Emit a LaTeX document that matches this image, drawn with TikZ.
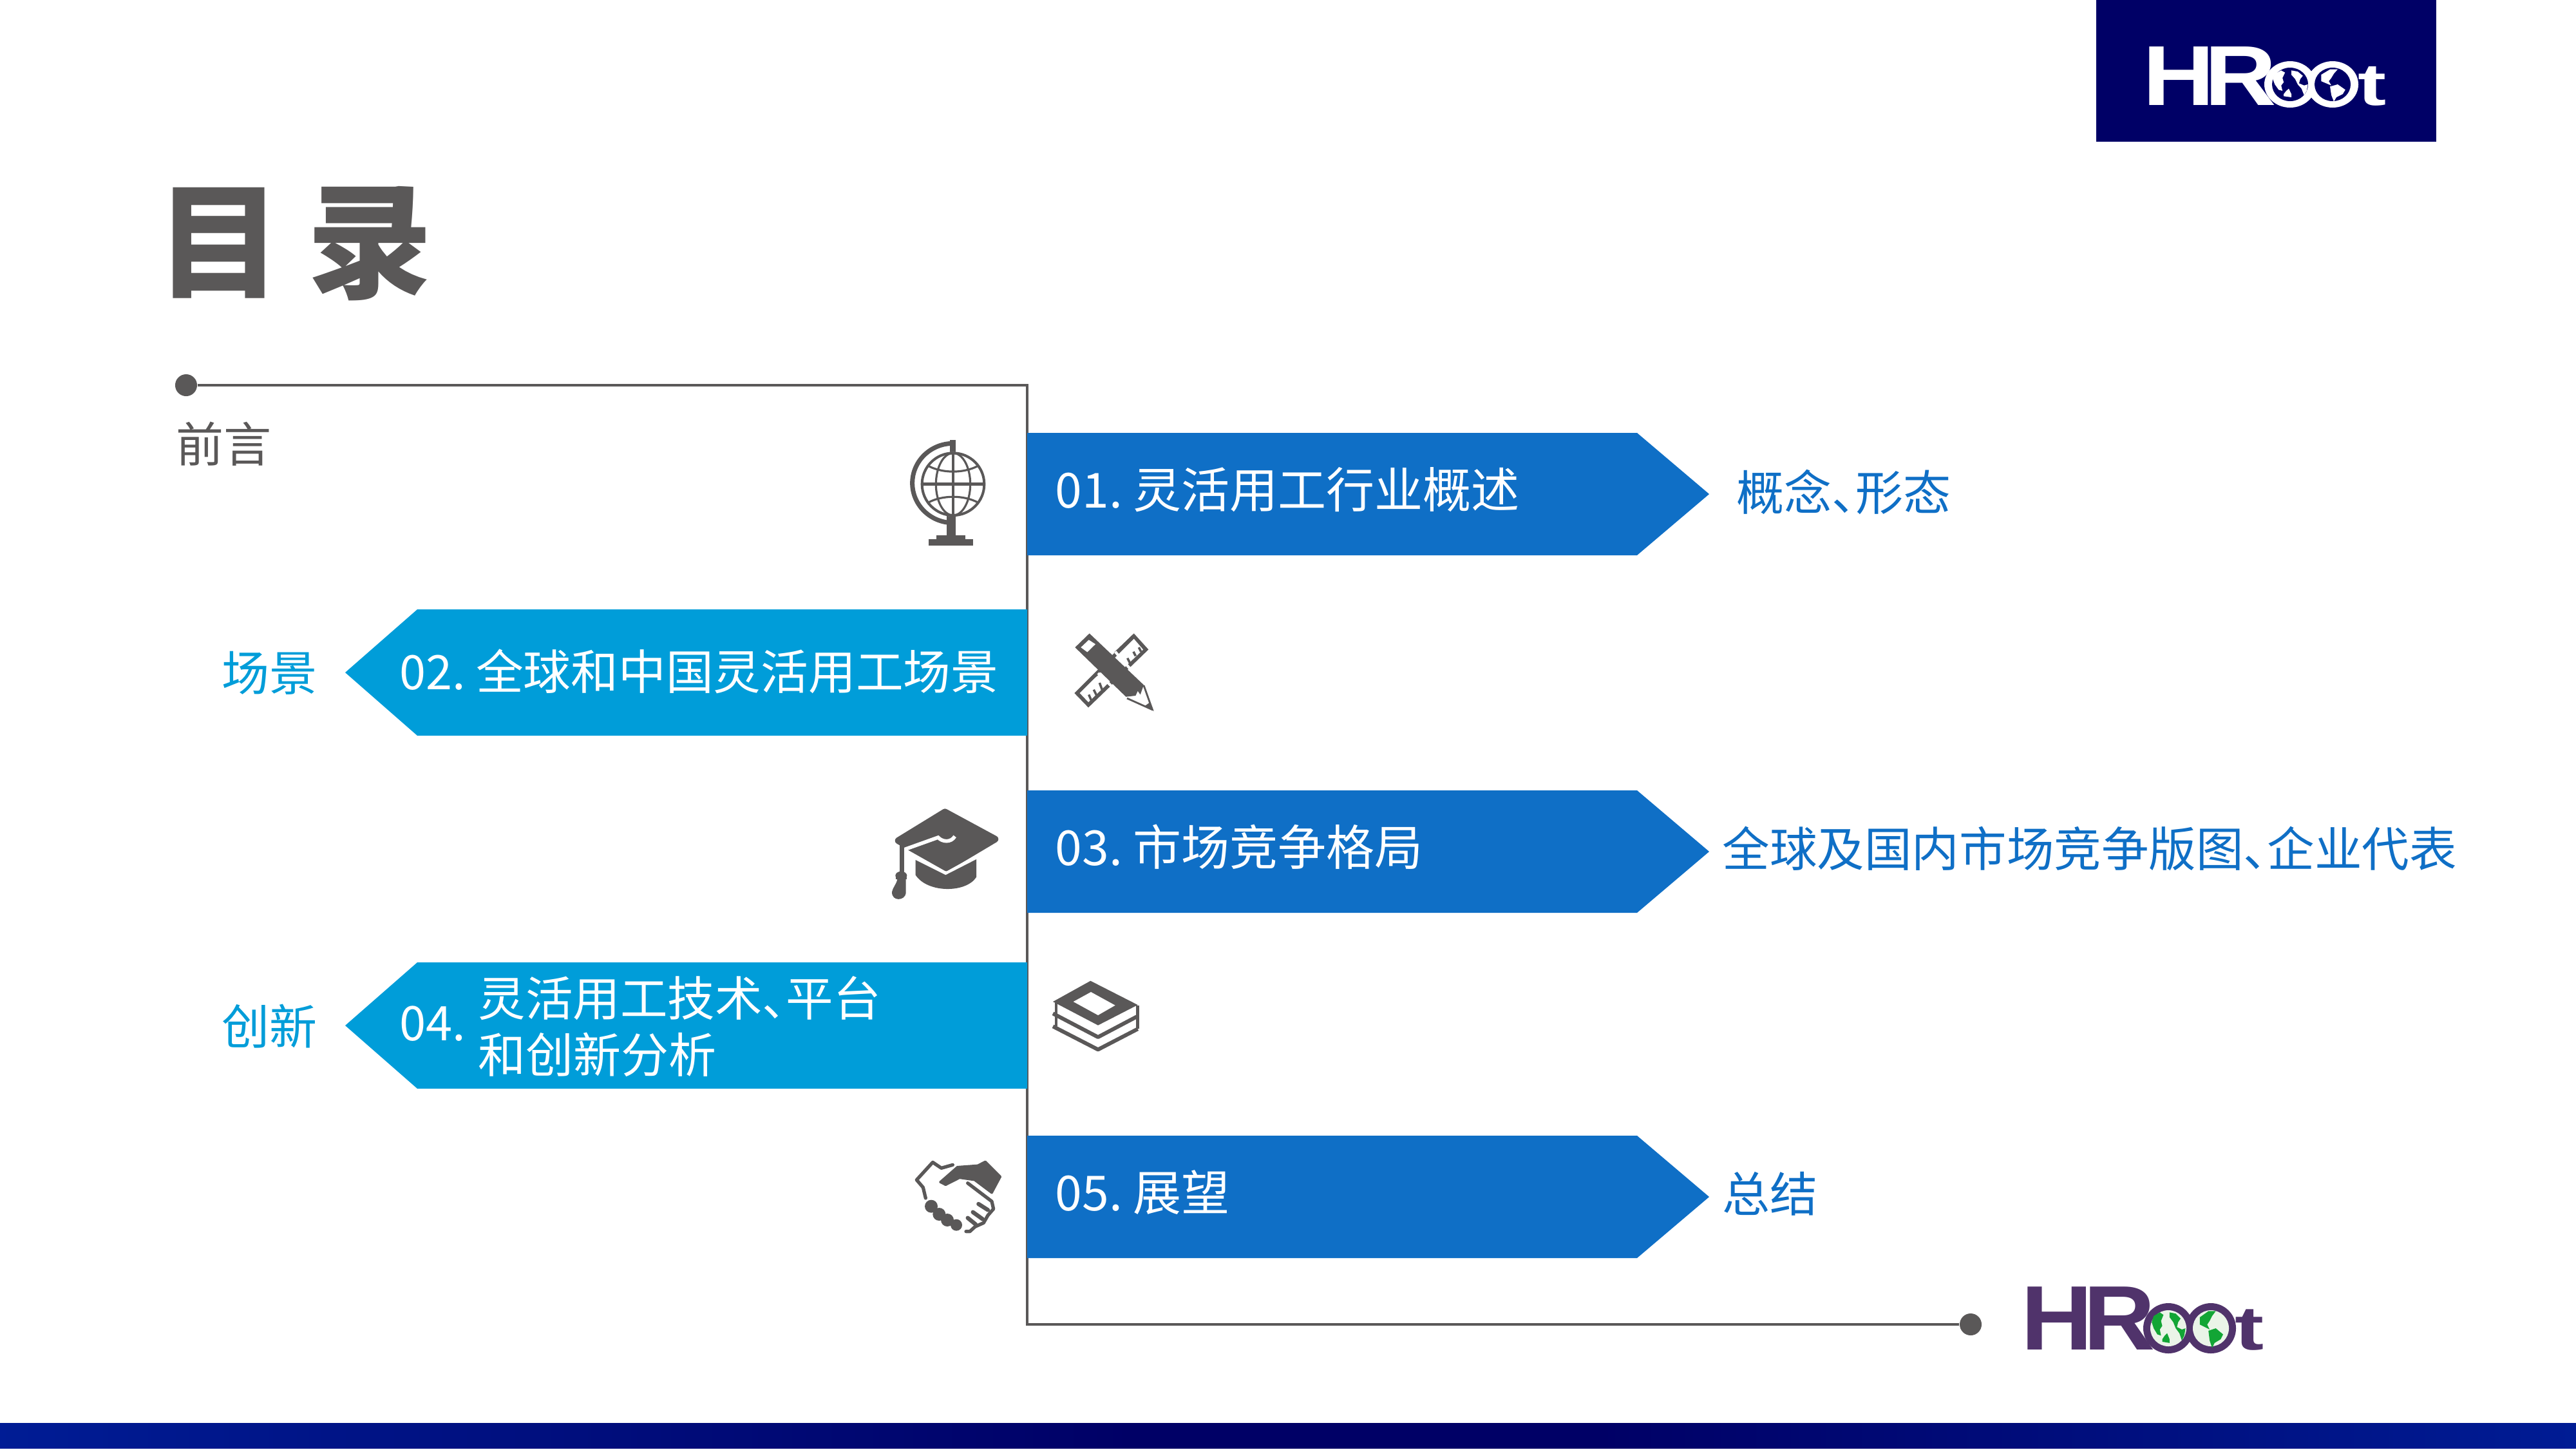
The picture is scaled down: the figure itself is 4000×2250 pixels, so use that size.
\documentclass[tikz,border=0pt]{standalone}
\usepackage{fontspec}
\usepackage{graphicx}
\setmainfont{Noto Sans CJK SC}[RawFeature={+palt}]
\newfontfamily\logofont{Liberation Sans}[BoldFont={Liberation Sans Bold}]
\definecolor{ink}{HTML}{5A5858}
\definecolor{flowA}{HTML}{0F6FC6}
\definecolor{flowB}{HTML}{009DD9}
\definecolor{navy}{HTML}{000066}
\definecolor{plum}{HTML}{50336B}
\definecolor{leaf}{HTML}{12A535}
\definecolor{pale}{HTML}{EAF4E8}
\definecolor{bandEdge}{HTML}{0026A4}
\definecolor{bandPeak}{HTML}{0029AA}
\pgfdeclarehorizontalshading{bandshade}{100bp}{color(0bp)=(bandEdge); color(15bp)=(bandPeak); color(47bp)=(navy); color(56bp)=(navy); color(84bp)=(bandPeak); color(100bp)=(bandEdge)}
\newcommand{\pxfont}[1]{\fontsize{\the\dimexpr 0.28453\dimexpr #1pt\relax\relax}{\the\dimexpr 0.34\dimexpr #1pt\relax\relax}\selectfont}
\newcommand{\gap}{\kern-0.06cm }
\newcommand{\landA}{(-60,-50) -- (-35,-65) -- (-20,-55) -- (-30,-30) -- (-25,-10) -- (-35,5) -- (-30,30) -- (-45,25) -- (-60,0) -- (-68,-25) -- cycle
 (5,-65) -- (30,-60) -- (50,-40) -- (40,-25) -- (35,-5) -- (55,5) -- (70,0) -- (65,30) -- (55,50) -- (45,20) -- (30,0) -- (20,-25) -- (5,-45) -- cycle
 (-25,45) -- (-15,30) -- (-5,20) -- (5,45) -- (5,60) -- (-25,55) -- cycle}
\newcommand{\landB}{(-45,-45) -- (-10,-70) -- (20,-70) -- (5,-50) -- (-5,-30) -- (-15,-15) -- (-5,5) -- (-25,-5) -- (-45,-15) -- cycle
 (-10,10) -- (20,0) -- (50,25) -- (40,45) -- (15,60) -- (5,80) -- (-5,50) -- cycle}
\tikzset{
  x=0.01cm,y=-0.01cm,
  lbl/.style={anchor=base west,inner sep=0pt,font=\pxfont{74}},
  inbar/.style={lbl,text=white},
  sideA/.style={lbl,text=flowA},
  sideB/.style={lbl,text=flowB},
  dot/.style={circle,fill=ink,inner sep=0pt,minimum size=0.34cm},
  conn/.style={draw=ink,line width=1.14pt,line join=miter},
  logotxt/.style={anchor=base west,inner sep=0pt},
}
\begin{document}
\begin{tikzpicture}
\useasboundingbox (0,0) rectangle (4000,2250);
\fill[white] (0,0) rectangle (4000,2250);
% bottom band
\shade[shading=bandshade] (0,2209) rectangle (4000,2248);
% header logo
\fill[navy] (3255,0) rectangle (3783,220);
\node[logotxt,text=white,font=\logofont\bfseries\pxfont{132}] (h1) at (3327,163) {\scalebox{1.17}[1]{H}};
\node[logotxt,text=white,font=\logofont\bfseries\pxfont{132}] (r1) at (3423,163) {\scalebox{1.17}[1]{R}};
\node[logotxt,text=white,font=\logofont\bfseries\pxfont{92}] (t1) at (3661,163) {\scalebox{1.44}[1]{t}};
\fill[white] (3556,131) ellipse (40 and 36) (3622,131) ellipse (40 and 36);
\fill[navy] (3556,131) ellipse (28 and 26) (3622,131) ellipse (28 and 26);
\begin{scope}[shift={(3556,131)},xscale=0.395,yscale=0.333]\fill[white] \landA;\end{scope}
\begin{scope}[shift={(3622,131)},xscale=0.395,yscale=0.333]\fill[white] \landB;\end{scope}
% title
\node[anchor=base west,inner sep=0pt,text=ink,font=\bfseries\pxfont{194}] (title) at (243,447) {目\kern-0.05cm{} 录};
% frame line
\node[dot] (d1) at (289,598) {};
\node[dot] (d2) at (3060,2056) {};
\coordinate (c1) at (1595,598);
\coordinate (c2) at (1595,2056);
\draw[conn] (d1) -- (c1) -- (c2) -- (d2);
% bars
\fill[flowA] (1595,672) -- (2542,672) -- (2654,767) -- (2542,862) -- (1595,862) -- cycle;
\fill[flowB] (1595,946) -- (648,946) -- (536,1044) -- (648,1142) -- (1595,1142) -- cycle;
\fill[flowA] (1595,1227) -- (2542,1227) -- (2654,1322) -- (2542,1417) -- (1595,1417) -- cycle;
\fill[flowB] (1595,1494) -- (648,1494) -- (536,1592) -- (648,1690) -- (1595,1690) -- cycle;
\fill[flowA] (1595,1763) -- (2542,1763) -- (2654,1858) -- (2542,1953) -- (1595,1953) -- cycle;
% texts
\node[lbl,text=ink] (qy) at (273,717) {前言};
\node[inbar,font=\pxfont{75}] (b1) at (1638,788) {01. \gap 灵活用工行业概述};
\node[inbar,font=\pxfont{73.7}] (b2) at (620,1070) {02. \gap 全球和中国灵活用工场景};
\node[inbar,font=\pxfont{75}] (b3) at (1638,1343) {03. \gap 市场竞争格局};
\node[inbar] (b4) at (620,1615) {04.};
\node[inbar,font=\pxfont{73.5}] (b4a) at (742,1577) {灵活用工技术、平台};
\node[inbar] (b4b) at (742,1665) {和创新分析};
\node[inbar,font=\pxfont{75}] (b5) at (1638,1879) {05. \gap 展望};
\node[sideA] (s1) at (2696,792) {概念、形态};
\node[sideB] (s2) at (344,1072) {场景};
\node[sideA,font=\pxfont{73.5}] (s3) at (2674,1345) {全球及国内市场竞争版图、企业代表};
\node[sideB] (s4) at (344,1621) {创新};
\node[sideA] (s5) at (2674,1881) {总结};
% globe icon
\begin{scope}[shift={(1340,660)},scale=1/3]
 \draw[ink,line width=2pt] (420,85) arc[start angle=-90,end angle=-270,x radius=190,y radius=185];
 \fill[ink] (405,70) rectangle (432,130);
 \fill[ink] (390,420) rectangle (432,520);
 \fill[ink] (342,512) rectangle (478,535);
 \fill[ink] (305,532) rectangle (512,560);
 \fill[white] (420,275) circle (150);
 \draw[ink,line width=1.15pt] (420,275) circle (145);
 \draw[ink,line width=0.9pt] (420,275) ellipse (80 and 145);
 \draw[ink,line width=0.9pt] (420,130) -- (420,420);
 \draw[ink,line width=1.4pt] (275,275) -- (565,275);
 \draw[ink,line width=0.9pt] (305,190) .. controls (370,225) and (470,225) .. (535,190);
 \draw[ink,line width=0.9pt] (305,360) .. controls (370,325) and (470,325) .. (535,360);
\end{scope}
% pencil and ruler icon
\begin{scope}[shift={(1620,950)},scale=1/3]
 \fill[ink] (422,100) -- (490,175) -- (210,445) -- (145,378) -- cycle;
 \fill[white] (422,125) -- (465,175) -- (210,420) -- (170,378) -- cycle;
 \draw[ink,line width=1pt] (225,415) -- (212,385) (250,392) -- (235,362) (275,365) -- (262,330) (405,240) -- (392,215) (430,205) -- (420,185) (455,185) -- (445,165);
 \draw[ink,line width=0.6pt] (160,372) -- (255,290);
 \draw[ink,line width=1.6pt] (335,195) -- (422,112);
 \draw[white,line width=1.2pt] (335,185) -- (470,340) (255,285) -- (385,410);
 \fill[ink] (215,100) -- (148,165) -- (385,395) -- (430,390) -- (440,368) -- (452,385) -- (468,340) -- cycle;
 \fill[white] (212,130) -- (243,150) -- (205,187) -- (175,165) -- cycle;
 \draw[ink,line width=0.8pt,line join=round] (468,342) -- (508,455) -- (390,402);
 \fill[ink] (515,462) -- (470,440) -- (498,420) -- cycle;
\end{scope}
% graduation cap icon
\begin{scope}[shift={(1360,1230)},scale=1/3]
 \fill[ink,draw=ink,line width=3pt,line join=round] (322,92) -- (555,218) -- (330,352) -- (105,225) -- cycle;
 \draw[white,line width=1.6pt] (128,268) -- (290,210) .. controls (310,232) and (350,235) .. (368,205);
 \draw[white,line width=1.6pt] (145,278) -- (325,380) -- (480,295);
 \fill[ink] (185,315) -- (325,385) -- (468,312) -- (468,395) .. controls (420,470) and (240,470) .. (185,385) -- cycle;
 \draw[ink,line width=2pt] (120,230) -- (120,375);
 \fill[ink] (118,388) ellipse (27 and 20);
 \fill[ink] (92,395) rectangle (145,405);
 \fill[ink] (140,405) -- (140,470) .. controls (135,505) and (75,510) .. (75,465) .. controls (80,440) and (95,430) .. (100,405) -- cycle;
\end{scope}
% books icon
\begin{scope}[shift={(1600,1490)},scale=1/3]
 \fill[ink] (280,98) -- (500,210) -- (315,305) -- (105,195) -- cycle;
 \fill[white] (282,150) -- (395,212) -- (315,258) -- (200,195) -- cycle;
 \draw[ink,line width=1.4pt,line join=round] (120,200) -- (120,310) (500,212) -- (500,322);
 \draw[ink,line width=1.7pt,line join=round] (105,250) -- (315,360) -- (495,265);
 \draw[ink,line width=1.7pt,line join=round] (105,310) -- (315,418) -- (500,322);
\end{scope}
% handshake icon
\begin{scope}[shift={(1390,1770)},scale=1/3]
 \draw[ink,line width=1.5pt,line join=round,line cap=round] (142,270) -- (130,220) -- (100,185) -- (175,103) -- (215,130) -- (268,115);
 \fill[ink,draw=ink,line width=1pt,line join=round] (210,195) -- (290,125) -- (385,118) -- (420,100) -- (490,170) -- (450,245) -- (370,185) -- (300,175) -- (235,208) -- cycle;
 \draw[ink,line width=1.5pt,line join=round,line cap=round] (338,200) -- (450,285) -- (458,320) -- (432,350) -- (412,385) -- (372,403) -- (348,425) -- (330,425);
 \draw[ink,line width=1.8pt,line cap=round] (388,297) -- (432,325) (362,335) -- (408,368) (338,362) -- (375,392);
 \fill[ink] (168,308) circle (30) (205,345) circle (30) (243,372) circle (30) (285,395) circle (27);
\end{scope}
% footer logo
\node[logotxt,text=plum,font=\logofont\bfseries\pxfont{142}] (h2) at (3138,2095) {\scalebox{1.085}[1]{H}};
\node[logotxt,text=plum,font=\logofont\bfseries\pxfont{142}] (r2) at (3235,2095) {\scalebox{1.085}[1]{R}};
\node[logotxt,text=plum,font=\logofont\bfseries\pxfont{96}] (t2) at (3470,2095) {\scalebox{1.41}[1]{t}};
\fill[plum] (3367,2062) circle (39) (3433,2062) circle (39);
\fill[pale] (3367,2062) circle (28) (3433,2062) circle (28);
\begin{scope}[shift={(3367,2062)},scale=0.38]\fill[leaf] \landA;\end{scope}
\begin{scope}[shift={(3433,2062)},scale=0.38]\fill[leaf] \landB;\end{scope}
\end{tikzpicture}
\end{document}
